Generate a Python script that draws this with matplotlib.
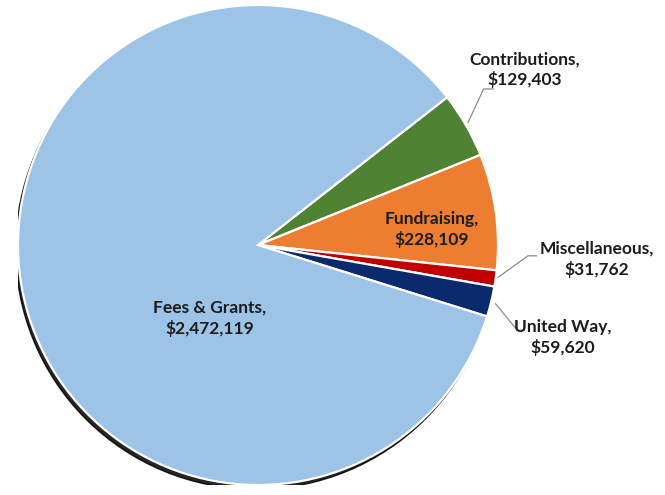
import matplotlib.pyplot as plt
from matplotlib.patches import Circle

# revenue sources, clockwise from the top-right
sources = ['Contributions', 'Fundraising', 'Miscellaneous', 'United Way', 'Fees & Grants']
amounts = [129403, 228109, 31762, 59620, 2472119]
colors = ['#4F8233', '#ED7D31', '#C00000', '#0B2A6E', '#9DC3E6']

fig = plt.figure(figsize=(6.65, 4.95), dpi=100)
# square box: 480x480 px, centred on the pie centre (258, 245)
ax = fig.add_axes([18 / 665, 10 / 495, 480 / 665, 480 / 495])

# dark shadow down-left of the pie
ax.add_patch(Circle((-0.01, -0.018), 1.0, color='black', alpha=0.85, zorder=0))

wedges, _ = ax.pie(amounts, colors=colors, startangle=38, counterclock=False,
                   radius=1.0, wedgeprops=dict(edgecolor='white', linewidth=1.6))
for w in wedges:
    w.set_zorder(2)

def money(v):
    return '${:,}'.format(v)

font = dict(family=['Lato', 'DejaVu Sans'], fontweight='bold', fontsize=12.5,
            color='#1c1c1c', ha='center', va='center', linespacing=1.3)

# label positions (data units, radius = 1)
label_pos = {
    'Contributions': (1.11, 0.73),
    'Fundraising': (0.725, 0.065),
    'Miscellaneous': (1.41, -0.06),
    'United Way': (1.27, -0.385),
    'Fees & Grants': (-0.20, -0.305),
}
for name, val in zip(sources, amounts):
    x, y = label_pos[name]
    ax.text(x, y, name + ',\n' + money(val), zorder=5, clip_on=False, **font)

# leader lines for the labels outside the pie
leaders = {
    'Contributions': [(0.875, 0.51), (0.94, 0.65), (0.98, 0.65)],
    'Miscellaneous': [(1.0, -0.135), (1.125, -0.045), (1.16, -0.045)],
    'United Way': [(0.99, -0.245), (1.08, -0.355), (1.11, -0.355)],
}
for name, pts in leaders.items():
    xs, ys = zip(*pts)
    ax.plot(xs, ys, color='#8c8c8c', linewidth=0.9, zorder=4, clip_on=False)

ax.set_xlim(-1, 1)
ax.set_ylim(-1, 1)
ax.set_aspect('auto')
ax.axis('off')

fig.savefig('out.png', dpi=100, facecolor='white')
